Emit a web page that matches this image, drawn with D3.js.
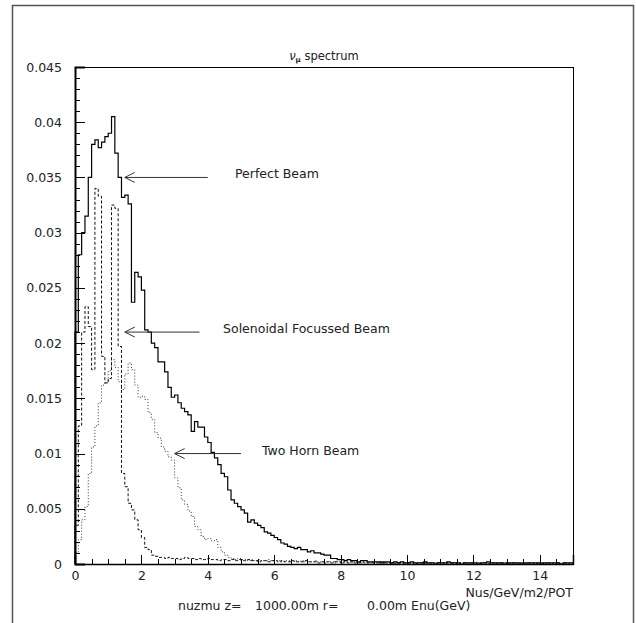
<!DOCTYPE html>
<html>
<head>
<meta charset="utf-8">
<script src="https://cdn.jsdelivr.net/npm/d3@7"></script>
<style>
  body { margin: 0; background: #fff; }
  svg { display: block; font-family: "DejaVu Sans", sans-serif; }
</style>
</head>
<body>
<div id="chart"></div>
<script>
// histogrammes, pas de 0.1 GeV de 0 a 15 GeV
const binWidth = 0.1;

const perfectBeam = [
  0.0210,0.0280,0.0300,0.0315,0.0350,0.0380,0.0384,0.0377,0.0382,0.0387,
  0.0390,0.0405,0.0372,0.0350,0.0332,0.0334,0.0326,0.0237,0.0264,0.0260,
  0.0248,0.0212,0.0210,0.0200,0.0196,0.0183,0.0183,0.0174,0.0160,0.0151,
  0.0153,0.0146,0.0141,0.0138,0.0135,0.0120,0.0129,0.0124,0.0124,0.0115,
  0.0110,0.0101,0.0096,0.0090,0.0082,0.0079,0.0067,0.0058,0.0055,0.0052,
  0.0049,0.0046,0.0038,0.0040,0.0037,0.0035,0.0033,0.0029,0.0028,0.0026,
  0.0024,0.0022,0.0019,0.0018,0.0016,0.0015,0.0014,0.0015,0.0013,0.0013,
  0.0011,0.0012,0.0010,0.0010,0.0009,0.0008,0.0008,0.0005,0.0005,0.0004,
  0.0004,0.0003,0.0004,0.0003,0.0003,0.0002,0.0003,0.0003,0.0002,0.0002,
  0.0002,0.0002,0.0001,0.0002,0.0002,0.0001,0.0002,0.0001,0.0002,0.0001,
  0.0001,0.0002,0.0001,0.0001,0.0001,0.0002,0.0001,0.0001,0.0000,0.0001,
  0.0001,0.0001,0.0002,0.0001,0.0001,0.0001,0.0000,0.0001,0.0001,0.0001,
  0.0001,0.0000,0.0001,0.0001,0.0002,0.0001,0.0001,0.0001,0.0001,0.0000,
  0.0001,0.0001,0.0001,0.0001,0.0000,0.0001,0.0001,0.0001,0.0001,0.0001,
  0.0000,0.0001,0.0001,0.0001,0.0001,0.0001,0.0000,0.0001,0.0001,0.0001
];

const solenoidBeam = [
  0.0035,0.0125,0.0210,0.0233,0.0215,0.0176,0.0340,0.0333,0.0188,0.0164,
  0.0168,0.0325,0.0322,0.0197,0.0082,0.0070,0.0055,0.0049,0.0040,0.0031,
  0.0024,0.0015,0.0013,0.0008,0.0007,0.0006,0.0006,0.0005,0.0006,0.0005,
  0.0005,0.0004,0.0005,0.0006,0.0005,0.0005,0.0004,0.0005,0.0004,0.0004,
  0.0005,0.0004,0.0004,0.0003,0.0004,0.0004,0.0003,0.0004,0.0003,0.0004,
  0.0003,0.0003,0.0004,0.0003,0.0003,0.0002,0.0003,0.0003,0.0002,0.0003,
  0.0003,0.0002,0.0003,0.0002,0.0002,0.0003,0.0002,0.0002,0.0002,0.0003,
  0.0002,0.0002,0.0002,0.0001,0.0002,0.0002,0.0002,0.0001,0.0002,0.0002,
  0.0001,0.0002,0.0001,0.0002,0.0001,0.0001,0.0002,0.0001,0.0001,0.0001,
  0.0001,0.0001,0.0002,0.0001,0.0001,0.0001,0.0000,0.0001,0.0001,0.0001,
  0.0001,0.0001,0.0000,0.0001,0.0001,0.0001,0.0001,0.0000,0.0001,0.0001,
  0.0001,0.0000,0.0001,0.0001,0.0001,0.0000,0.0001,0.0001,0.0000,0.0001,
  0.0001,0.0001,0.0000,0.0001,0.0000,0.0001,0.0001,0.0000,0.0001,0.0001,
  0.0000,0.0001,0.0001,0.0000,0.0001,0.0000,0.0001,0.0001,0.0000,0.0001,
  0.0001,0.0000,0.0001,0.0000,0.0001,0.0001,0.0000,0.0001,0.0000,0.0001
];

const twoHornBeam = [
  0.0010,0.0022,0.0040,0.0052,0.0082,0.0106,0.0125,0.0146,0.0162,0.0164,
  0.0175,0.0185,0.0178,0.0165,0.0158,0.0172,0.0182,0.0176,0.0162,0.0151,
  0.0152,0.0149,0.0137,0.0131,0.0119,0.0114,0.0106,0.0102,0.0097,0.0094,
  0.0078,0.0069,0.0058,0.0054,0.0048,0.0043,0.0034,0.0031,0.0025,0.0022,
  0.0023,0.0021,0.0022,0.0015,0.0011,0.0008,0.0006,0.0005,0.0004,0.0005,
  0.0004,0.0004,0.0003,0.0004,0.0003,0.0004,0.0003,0.0003,0.0004,0.0003,
  0.0003,0.0003,0.0002,0.0003,0.0003,0.0002,0.0003,0.0002,0.0003,0.0002,
  0.0002,0.0002,0.0003,0.0002,0.0002,0.0001,0.0002,0.0002,0.0001,0.0002,
  0.0001,0.0002,0.0001,0.0001,0.0002,0.0001,0.0001,0.0001,0.0001,0.0001,
  0.0001,0.0001,0.0001,0.0000,0.0001,0.0001,0.0001,0.0001,0.0000,0.0001,
  0.0001,0.0000,0.0001,0.0001,0.0001,0.0000,0.0001,0.0001,0.0000,0.0001,
  0.0001,0.0001,0.0000,0.0001,0.0000,0.0001,0.0001,0.0000,0.0001,0.0000,
  0.0001,0.0000,0.0001,0.0001,0.0000,0.0001,0.0000,0.0001,0.0000,0.0001,
  0.0000,0.0001,0.0000,0.0001,0.0001,0.0000,0.0001,0.0000,0.0001,0.0000,
  0.0001,0.0000,0.0001,0.0000,0.0000,0.0001,0.0000,0.0001,0.0000,0.0000
];

const xTicks = [0, 2, 4, 6, 8, 10, 12, 14];
const yTicks = [0, 0.005, 0.01, 0.015, 0.02, 0.025, 0.03, 0.035, 0.04, 0.045];
const yTickLabels = ['0', '0.005', '0.01', '0.015', '0.02', '0.025', '0.03', '0.035', '0.04', '0.045'];

// fleches: etiquette, pointe (x), queue (x), hauteur (y), debut du texte (x)
const arrowLabels = ['Perfect Beam', 'Solenoidal Focussed Beam', 'Two Horn Beam'];
const arrowTipX = [1.5, 1.5, 3.0];
const arrowTailX = [4.0, 3.75, 5.0];
const arrowY = [0.035, 0.021, 0.010];
const arrowTextX = [4.82, 4.46, 5.63];

// dimensions
const width = 636;
const height = 623;
const plot = { left: 75, right: 573, top: 67, bottom: 564 };

const svg = d3.select('#chart').append('svg')
  .attr('width', width)
  .attr('height', height);

// cadre exterieur
svg.append('rect')
  .attr('x', 12.5).attr('y', 5.5)
  .attr('width', 621).attr('height', 640)
  .attr('fill', 'none')
  .attr('stroke', '#555')
  .attr('stroke-width', 1.5);

const x = d3.scaleLinear().domain([0, 15]).range([plot.left, plot.right]);
const y = d3.scaleLinear().domain([0, 0.045]).range([plot.bottom, plot.top]);

// histogrammes en escalier
const line = d3.line()
  .x(d => x(d[0]))
  .y(d => y(d[1]))
  .curve(d3.curveStepAfter);

function steps(values) {
  const pts = [[0, 0]];
  values.forEach((v, i) => pts.push([i * binWidth, v]));
  pts.push([values.length * binWidth, values[values.length - 1]]);
  return pts;
}

const series = [
  { values: twoHornBeam, dash: '1,2', color: '#333', w: 1 },
  { values: solenoidBeam, dash: '3,2', color: '#111', w: 1 },
  { values: perfectBeam, dash: null, color: '#000', w: 1.2 }
];

svg.append('g').selectAll('path')
  .data(series)
  .enter().append('path')
  .attr('d', d => line(steps(d.values)))
  .attr('fill', 'none')
  .attr('stroke', d => d.color)
  .attr('stroke-width', d => d.w)
  .attr('stroke-dasharray', d => d.dash);

// cadre du graphique
svg.append('rect')
  .attr('x', plot.left).attr('y', plot.top)
  .attr('width', plot.right - plot.left)
  .attr('height', plot.bottom - plot.top)
  .attr('fill', 'none')
  .attr('stroke', '#000')
  .attr('stroke-width', 1)
  .attr('shape-rendering', 'crispEdges');

// axe y, ticks vers l'interieur
const yMinor = d3.range(0, 0.0451, 0.001);
svg.append('g')
  .attr('transform', `translate(${plot.left},0)`)
  .call(d3.axisLeft(y).tickValues(yMinor).tickSize(-5).tickFormat(''))
  .call(g => g.select('.domain').remove());

svg.append('g')
  .attr('transform', `translate(${plot.left},0)`)
  .call(d3.axisLeft(y).tickValues(yTicks).tickSize(-10).tickPadding(13)
    .tickFormat((d, i) => yTickLabels[i]))
  .call(g => g.select('.domain').attr('stroke-width', 2))
  .call(g => g.selectAll('text')
    .style('font-size', '12.5px')
    .style('font-family', '"DejaVu Sans", sans-serif')
    .attr('fill', '#222'));

// axe x
const xMinor = d3.range(0, 15.01, 0.5);
svg.append('g')
  .attr('transform', `translate(0,${plot.bottom})`)
  .call(d3.axisBottom(x).tickValues(xMinor).tickSize(-5).tickFormat(''))
  .call(g => g.select('.domain').remove());

svg.append('g')
  .attr('transform', `translate(0,${plot.bottom})`)
  .call(d3.axisBottom(x).tickValues(xTicks).tickSize(-9).tickPadding(7)
    .tickFormat(d3.format('d')))
  .call(g => g.select('.domain').attr('stroke-width', 1.5))
  .call(g => g.selectAll('text')
    .style('font-size', '12.5px')
    .style('font-family', '"DejaVu Sans", sans-serif')
    .attr('fill', '#222'));

svg.selectAll('.tick line').attr('shape-rendering', 'crispEdges');

// titre
const title = svg.append('text')
  .attr('x', x(7.5))
  .attr('y', 60)
  .attr('text-anchor', 'middle')
  .style('font-size', '11.5px')
  .attr('fill', '#222');
title.append('tspan').attr('font-style', 'italic').text('ν');
title.append('tspan').attr('font-size', '7px').attr('dy', 2).attr('font-weight', 'bold').text('μ');
title.append('tspan').attr('dy', -2).text(' spectrum');

// fleches et etiquettes
const arrows = svg.append('g').selectAll('g')
  .data(arrowLabels)
  .enter().append('g');

arrows.append('line')
  .attr('x1', (d, i) => x(arrowTipX[i]))
  .attr('x2', (d, i) => x(arrowTailX[i]))
  .attr('y1', (d, i) => y(arrowY[i]))
  .attr('y2', (d, i) => y(arrowY[i]))
  .attr('stroke', '#333');

arrows.append('path')
  .attr('d', (d, i) => {
    const tx = x(arrowTipX[i]), ty = y(arrowY[i]);
    return `M${tx + 10},${ty - 5}L${tx},${ty}L${tx + 10},${ty + 5}`;
  })
  .attr('fill', 'none')
  .attr('stroke', '#333');

arrows.append('text')
  .attr('x', (d, i) => x(arrowTextX[i]))
  .attr('y', (d, i) => y(arrowY[i]) + 1)
  .style('font-size', '12.5px')
  .attr('fill', '#222')
  .text(d => d);

// legendes du bas
svg.append('text')
  .attr('x', plot.right)
  .attr('y', 597)
  .attr('text-anchor', 'end')
  .style('font-size', '12.5px')
  .attr('fill', '#222')
  .text('Nus/GeV/m2/POT');

const info = svg.append('text')
  .attr('y', 610)
  .style('font-size', '12.5px')
  .attr('fill', '#222');
info.append('tspan').attr('x', 178).text('nuzmu z=');
info.append('tspan').attr('x', 255).text('1000.00m r=');
info.append('tspan').attr('x', 367).text('0.00m Enu(GeV)');
</script>
</body>
</html>
